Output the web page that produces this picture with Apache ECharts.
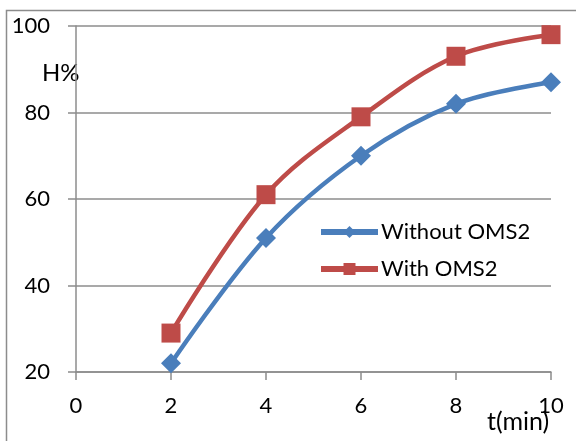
<!DOCTYPE html>
<html>
<head>
<meta charset="utf-8">
<script src="https://cdn.jsdelivr.net/npm/echarts@6/dist/echarts.min.js"></script>
<style>
  html, body { margin: 0; padding: 0; background: #fff; }
  #chart { width: 576px; height: 441px; }
</style>
</head>
<body>
<div id="chart"></div>
<script>
// Reaction time (min) and conversion H% with and without OMS2
const times = [2, 4, 6, 8, 10];
const withoutOMS2 = [22, 51, 70, 82, 87];
const withOMS2 = [29, 61, 79, 93, 98];
const seriesNames = ['Without OMS2', 'With OMS2'];

const FONT = 'Lato';
const axisGray = '#8c8c8c';
const blue = '#4a7ebb';
const red = '#be4b48';

const chart = echarts.init(document.getElementById('chart'), null, { renderer: 'canvas' });

chart.setOption({
  animation: false,
  backgroundColor: '#fff',
  textStyle: { fontFamily: FONT },
  grid: { left: 76, top: 26, right: 25, bottom: 69 },
  graphic: [
    {
      type: 'rect',
      shape: { x: 6.5, y: 10.5, width: 600, height: 500 },
      style: { fill: 'none', stroke: '#8c8c8c', lineWidth: 1.5 },
      silent: true,
      z: -1
    },
    {
      type: 'text',
      left: 42,
      top: 61,
      style: { text: 'H%', fill: '#000', font: '24px ' + FONT }
    },
    {
      type: 'text',
      left: 487,
      top: 409,
      style: { text: 't(min)', fill: '#000', font: '25px ' + FONT }
    }
  ],
  legend: {
    orient: 'vertical',
    left: 313,
    top: 216,
    itemWidth: 57,
    itemHeight: 15,
    itemGap: 15,
    lineStyle: { width: 6 },
    textStyle: { fontSize: 22, color: '#000', fontFamily: FONT, padding: [0, 0, 0, -2] },
    data: seriesNames
  },
  xAxis: {
    type: 'value',
    min: 0,
    max: 10,
    interval: 2,
    axisLine: { lineStyle: { color: axisGray, width: 1.5 } },
    axisTick: { show: true, length: 8, lineStyle: { color: axisGray, width: 1.5 } },
    axisLabel: { color: '#000', fontSize: 22, margin: 23, fontFamily: FONT },
    splitLine: { show: false }
  },
  yAxis: {
    type: 'value',
    min: 20,
    max: 100,
    interval: 20,
    axisLine: { show: true, lineStyle: { color: axisGray, width: 1.5 } },
    axisTick: { show: true, length: 8, lineStyle: { color: axisGray, width: 1.5 } },
    axisLabel: { color: '#000', fontSize: 22, margin: 26, fontFamily: FONT },
    splitLine: { show: true, lineStyle: { color: axisGray, width: 1.5 } }
  },
  series: [
    {
      name: seriesNames[0],
      type: 'line',
      smooth: 0.35,
      data: times.map((t, i) => [t, withoutOMS2[i]]),
      symbol: 'diamond',
      symbolSize: 20,
      lineStyle: { color: blue, width: 4.5 },
      itemStyle: { color: blue }
    },
    {
      name: seriesNames[1],
      type: 'line',
      smooth: 0.35,
      data: times.map((t, i) => [t, withOMS2[i]]),
      symbol: 'rect',
      symbolSize: 19,
      lineStyle: { color: red, width: 4.5 },
      itemStyle: { color: red }
    }
  ]
});
</script>
</body>
</html>
